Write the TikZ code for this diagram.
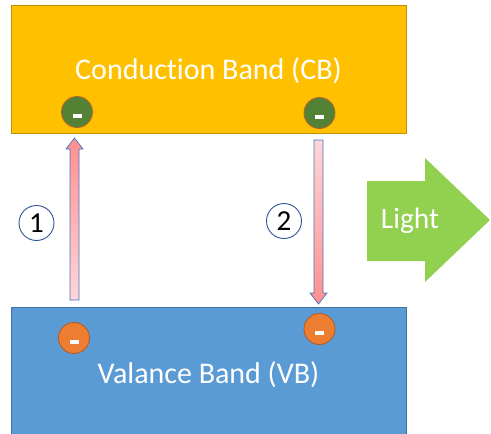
\documentclass[tikz,border=0pt]{standalone}
\usepackage{fontspec}
\setmainfont{Carlito}[Ligatures=NoCommon]
\usetikzlibrary{shapes.arrows}
\definecolor{cbfill}{HTML}{FFC000}
\definecolor{cbdraw}{HTML}{BF9000}
\definecolor{vbfill}{HTML}{5B9BD5}
\definecolor{vbdraw}{HTML}{41719C}
\definecolor{elgreen}{HTML}{548235}
\definecolor{elgreendraw}{HTML}{B8602A}
\definecolor{elorange}{HTML}{ED7D31}
\definecolor{elorangedraw}{HTML}{AE5A21}
\definecolor{lightgreen}{HTML}{92D050}
\definecolor{arrdraw}{HTML}{4472C4}
\definecolor{pinkdark}{HTML}{FF8F8F}
\definecolor{pinklight}{HTML}{FFD6D6}
\definecolor{numdraw}{HTML}{2F5597}
\tikzset{
  band/.style={draw=#1, line width=0.8pt, minimum width=395pt, anchor=north west, inner sep=0pt},
  electron/.style={circle, minimum size=31pt, inner sep=0pt, line width=0.8pt},
  minus/.style={fill=white, draw=none, minimum width=9pt, minimum height=4pt, inner sep=0pt},
  numcirc/.style={circle, draw=numdraw, line width=0.9pt, minimum size=35pt, inner sep=0pt, font=\fontsize{29}{29}\selectfont},
  bandtext/.style={text=white, font=\fontsize{30}{30}\selectfont},
  transarrow/.style={draw=arrdraw, line width=0.7pt}
}
\begin{document}
\begin{tikzpicture}[x=1pt,y=-1pt]
\useasboundingbox (0,0) rectangle (491,434);
% bands
\node[band=cbdraw, fill=cbfill, minimum height=128pt] (cb) at (11,5) {};
\fill[vbfill] (11,307) rectangle (406,434);
\draw[vbdraw, line width=0.8pt] (11,434) -- (11,307) -- (406,307) -- (406,434);
\node[bandtext] (cbt) at (208.5,71) {Conduction Band (CB)};
\node[bandtext] (vbt) at (208.5,375) {Valance Band (VB)};
% electrons
\node[electron, fill=elgreen, draw=elgreendraw] (e1) at (77,112) {};
\node[electron, fill=elgreen, draw=elgreendraw] (e2) at (319.5,113) {};
\node[electron, fill=elorange, draw=elorangedraw] (e3) at (74,338) {};
\node[electron, fill=elorange, draw=elorangedraw] (e4) at (319.5,329) {};
\foreach \e in {e1,e2,e3,e4}{
  \node[minus] at ([yshift=-4pt]\e.center) {};
}
% transition arrows
\shade[top color=pinkdark, bottom color=pinklight]
  (70,300) -- (70,149) -- (66,149) -- (74.5,138) -- (83,149) -- (79,149) -- (79,300) -- cycle;
\draw[transarrow]
  (70,300) -- (70,149) -- (66,149) -- (74.5,138) -- (83,149) -- (79,149) -- (79,300) -- cycle;
\shade[top color=pinklight, bottom color=pinkdark]
  (314,140) -- (314,293) -- (310,293) -- (318.5,304) -- (327,293) -- (323,293) -- (323,140) -- cycle;
\draw[transarrow]
  (314,140) -- (314,293) -- (310,293) -- (318.5,304) -- (327,293) -- (323,293) -- (323,140) -- cycle;
% numbers
\node[numcirc] (n1) at (36.5,223) {1};
\node[numcirc] (n2) at (284,221) {2};
% light arrow
\fill[lightgreen] (367,181) -- (425,181) -- (425,158) -- (490,220) -- (425,282) -- (425,261) -- (367,261) -- cycle;
\node[text=white, font=\fontsize{29.5}{29.5}\selectfont] (light) at (410,221) {Light};
\end{tikzpicture}
\end{document}
